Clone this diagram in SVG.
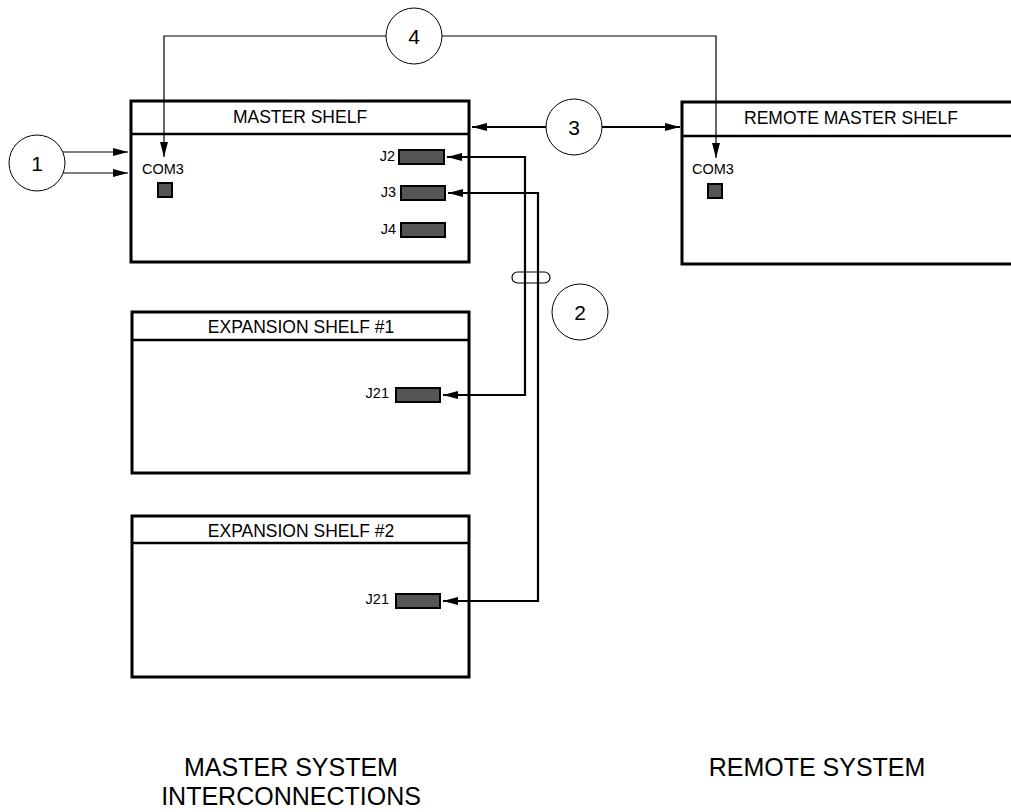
<svg xmlns="http://www.w3.org/2000/svg" width="1011" height="812" viewBox="0 0 1011 812">
<style>
.box{fill:#fff;stroke:#000;stroke-width:3}
.hdr{stroke:#000;stroke-width:2.5}
.ttl{font-family:"Liberation Sans",Arial,sans-serif;font-size:17.5px;text-anchor:middle;fill:#000}
.lbl{font-family:"Liberation Sans",Arial,sans-serif;font-size:14.5px;fill:#000}
.conn{fill:#555;stroke:#000;stroke-width:2}
.num{fill:#fff;stroke:#000;stroke-width:1}
.numt{font-family:"Liberation Sans",Arial,sans-serif;font-size:21px;text-anchor:middle;fill:#000}
.thin{fill:none;stroke:#000;stroke-width:1.2}
.wire{fill:none;stroke:#000;stroke-width:2.2}
.cap{font-family:"Liberation Sans",Arial,sans-serif;font-size:25px;text-anchor:middle;fill:#000}
</style>
<defs>
<marker id="ah" markerUnits="userSpaceOnUse" markerWidth="16" markerHeight="10" refX="15" refY="5" orient="auto-start-reverse" viewBox="0 0 16 10">
<path d="M0,1 L15,5 L0,9 z" fill="#000"/>
</marker>
</defs>

<g id="master-shelf">
<rect class="box" x="131" y="101" width="338" height="161"/>
<line class="hdr" x1="131" y1="134" x2="469" y2="134"/>
<text class="ttl" x="300" y="123">MASTER SHELF</text>
<text class="lbl" x="142" y="174">COM3</text>
<rect class="conn" x="158" y="183" width="14" height="14"/>
<text class="lbl" x="395" y="161" text-anchor="end">J2</text>
<rect class="conn" x="399" y="150" width="45" height="14"/>
<text class="lbl" x="396" y="197" text-anchor="end">J3</text>
<rect class="conn" x="401" y="186" width="44" height="14"/>
<text class="lbl" x="396" y="234" text-anchor="end">J4</text>
<rect class="conn" x="401" y="223" width="44" height="14"/>
</g>

<g id="remote-master-shelf">
<rect class="box" x="682" y="102" width="340" height="162"/>
<line class="hdr" x1="682" y1="136" x2="1012" y2="136"/>
<text class="ttl" x="851" y="124" font-size="18">REMOTE MASTER SHELF</text>
<text class="lbl" x="692" y="174">COM3</text>
<rect class="conn" x="708" y="184" width="14" height="14"/>
</g>

<g id="expansion-shelf-1">
<rect class="box" x="132" y="312" width="337" height="161"/>
<line class="hdr" x1="132" y1="340" x2="469" y2="340"/>
<text class="ttl" x="301" y="333" font-size="18">EXPANSION SHELF #1</text>
<text class="lbl" x="389" y="398" text-anchor="end">J21</text>
<rect class="conn" x="396" y="388" width="44" height="14"/>
</g>

<g id="expansion-shelf-2">
<rect class="box" x="132" y="516" width="337" height="161"/>
<line class="hdr" x1="132" y1="543" x2="469" y2="543"/>
<text class="ttl" x="301" y="537" font-size="18">EXPANSION SHELF #2</text>
<text class="lbl" x="389" y="604" text-anchor="end">J21</text>
<rect class="conn" x="396" y="594" width="44" height="14"/>
</g>

<g id="connectors">
<path class="thin" d="M164,157 V36 H716 V158" marker-start="url(#ah)" marker-end="url(#ah)"/>
<path class="wire" d="M472,127 H680" marker-start="url(#ah)" marker-end="url(#ah)"/>
<path class="thin" d="M60,152 H128" marker-end="url(#ah)"/>
<path class="thin" d="M60,173 H128" marker-end="url(#ah)"/>
<path class="wire" d="M447,157 H525 V395 H443" marker-start="url(#ah)" marker-end="url(#ah)"/>
<path class="wire" d="M448,193 H538 V601 H443" marker-start="url(#ah)" marker-end="url(#ah)"/>
<rect x="512" y="272" width="38" height="11" rx="5.5" ry="5.5" fill="none" stroke="#000" stroke-width="1.2"/>
</g>

<g id="callout-1">
<circle class="num" cx="37" cy="163" r="28"/>
<text class="numt" x="37" y="171">1</text>
</g>
<g id="callout-2">
<circle class="num" cx="580" cy="312" r="28"/>
<text class="numt" x="580" y="320">2</text>
</g>
<g id="callout-3">
<circle class="num" cx="574" cy="127" r="28"/>
<text class="numt" x="574" y="135">3</text>
</g>
<g id="callout-4">
<circle class="num" cx="414" cy="36" r="28"/>
<text class="numt" x="414" y="44">4</text>
</g>

<g id="captions">
<text class="cap" x="291" y="776">MASTER SYSTEM</text>
<text class="cap" x="291" y="805">INTERCONNECTIONS</text>
<text class="cap" x="817" y="776">REMOTE SYSTEM</text>
</g>
</svg>
